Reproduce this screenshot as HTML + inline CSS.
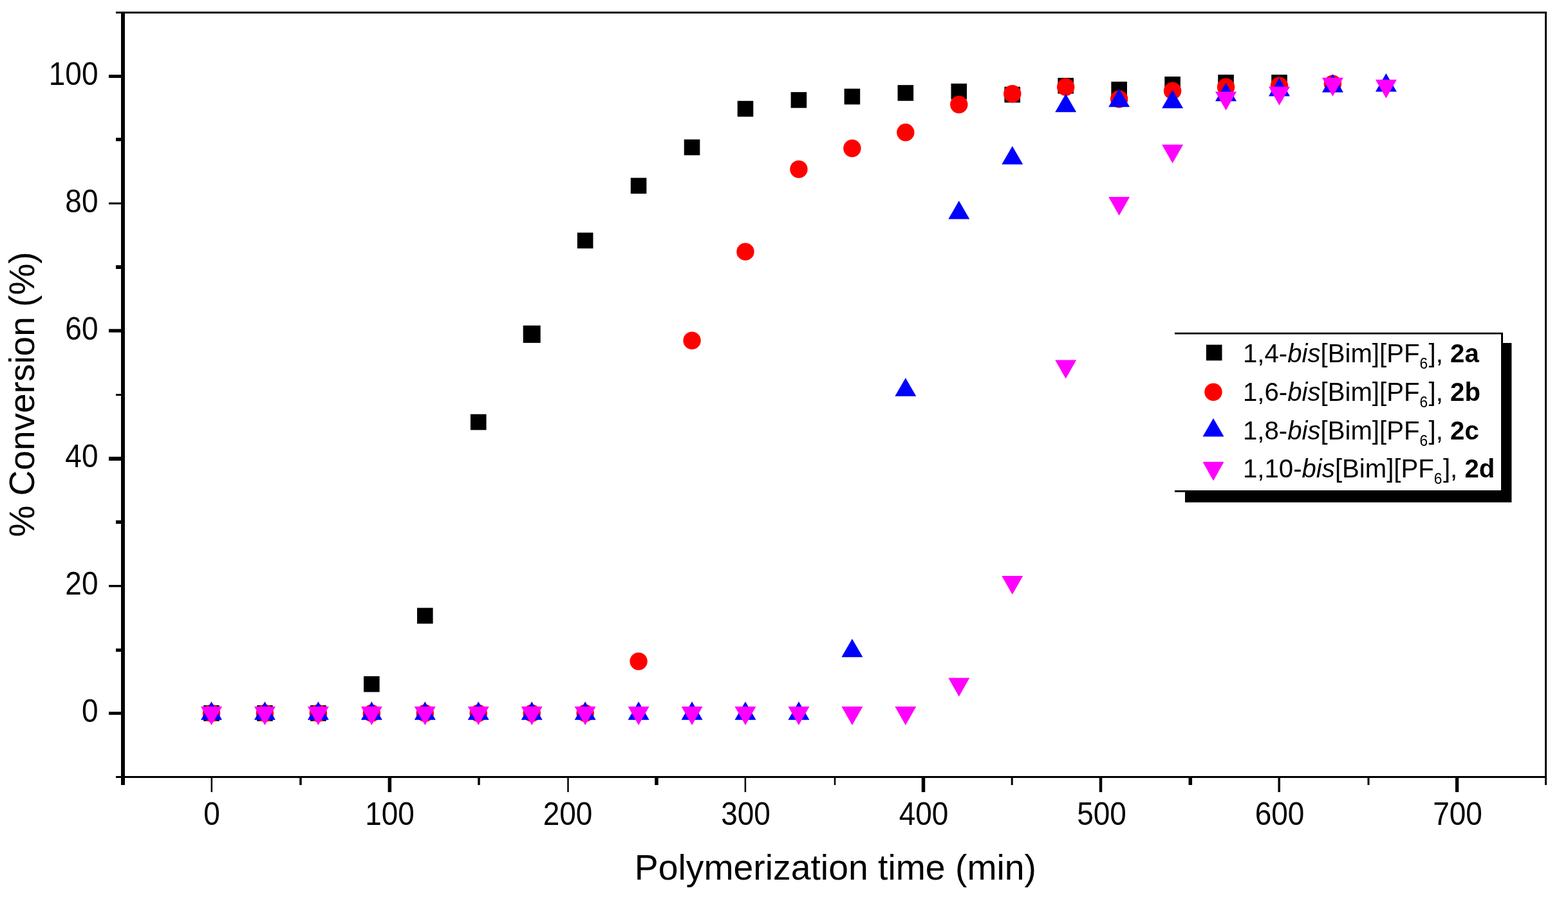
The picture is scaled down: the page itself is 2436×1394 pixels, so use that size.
<!DOCTYPE html>
<html><head><meta charset="utf-8"><title>Polymerization conversion</title>
<style>
html,body{margin:0;padding:0;background:#fff;}
body{width:2436px;height:1394px;overflow:hidden;}
svg{display:block;}
</style></head>
<body>
<svg width="2436" height="1394" viewBox="0 0 2436 1394">
<rect width="2436" height="1394" fill="#fff"/>
<g fill="#000">
<rect x="188" y="18" width="6" height="1202"/>
<rect x="180" y="18" width="2223" height="3"/>
<rect x="2400" y="18" width="3" height="1202"/>
<rect x="180" y="1206" width="2223" height="3"/>
<rect x="169" y="116.1" width="20" height="5"/>
<rect x="180" y="214.1" width="9" height="5.3"/>
<rect x="169" y="314.6" width="20" height="3"/>
<rect x="180" y="412.2" width="9" height="5.8"/>
<rect x="169" y="511.3" width="20" height="5.3"/>
<rect x="180" y="612.1" width="9" height="3"/>
<rect x="169" y="709.8" width="20" height="6.1"/>
<rect x="180" y="808.6" width="9" height="5.5"/>
<rect x="169" y="909" width="20" height="3.4"/>
<rect x="180" y="1007.8" width="9" height="5.1"/>
<rect x="169" y="1106.1" width="20" height="4.8"/>
<rect x="327.55" y="1208" width="2.5" height="23"/>
<rect x="465.25" y="1208" width="3.5" height="12"/>
<rect x="602.65" y="1208" width="5.5" height="23"/>
<rect x="742.25" y="1208" width="3.5" height="12"/>
<rect x="881.25" y="1208" width="2.5" height="23"/>
<rect x="1017.25" y="1208" width="5.5" height="12"/>
<rect x="1156.65" y="1208" width="2.5" height="23"/>
<rect x="1295.75" y="1208" width="2.5" height="12"/>
<rect x="1431.75" y="1208" width="5.5" height="23"/>
<rect x="1570.7" y="1208" width="3" height="12"/>
<rect x="1707.75" y="1208" width="4.5" height="23"/>
<rect x="1846.55" y="1208" width="5.5" height="12"/>
<rect x="1985.45" y="1208" width="3.5" height="23"/>
<rect x="2124.5" y="1208" width="3" height="12"/>
<rect x="2260.95" y="1208" width="5.3" height="23"/>
</g>
<g font-family="Liberation Sans, Arial, sans-serif" font-size="46" fill="#000">
<text transform="translate(152.5 1122.2) scale(1 1.07)" text-anchor="end">0</text>
<text transform="translate(152.5 924.2) scale(1 1.07)" text-anchor="end">20</text>
<text transform="translate(152.5 726.2) scale(1 1.07)" text-anchor="end">40</text>
<text transform="translate(152.5 528.2) scale(1 1.07)" text-anchor="end">60</text>
<text transform="translate(152.5 330.2) scale(1 1.07)" text-anchor="end">80</text>
<text transform="translate(152.5 132.2) scale(1 1.07)" text-anchor="end">100</text>
<text transform="translate(329 1282.4) scale(1 1.08)" text-anchor="middle">0</text>
<text transform="translate(605.5 1282.4) scale(1 1.08)" text-anchor="middle">100</text>
<text transform="translate(882 1282.4) scale(1 1.08)" text-anchor="middle">200</text>
<text transform="translate(1158.5 1282.4) scale(1 1.08)" text-anchor="middle">300</text>
<text transform="translate(1435 1282.4) scale(1 1.08)" text-anchor="middle">400</text>
<text transform="translate(1711.5 1282.4) scale(1 1.08)" text-anchor="middle">500</text>
<text transform="translate(1988 1282.4) scale(1 1.08)" text-anchor="middle">600</text>
<text transform="translate(2264.5 1282.4) scale(1 1.08)" text-anchor="middle">700</text>
</g>
<text x="1297.9" y="1366.5" font-family="Liberation Sans, Arial, sans-serif" font-size="55.35" text-anchor="middle">Polymerization time (min)</text>
<text transform="translate(52.5 613) rotate(-90)" font-family="Liberation Sans, Arial, sans-serif" font-size="55" text-anchor="middle">% Conversion (%)</text>
<g fill="#000">
<rect x="316.2" y="1096.1" width="24.6" height="24.6"/>
<rect x="399.15" y="1096.1" width="24.6" height="24.6"/>
<rect x="482.1" y="1096.1" width="24.6" height="24.6"/>
<rect x="565.05" y="1050.86" width="24.6" height="24.6"/>
<rect x="648" y="944.63" width="24.6" height="24.6"/>
<rect x="730.95" y="643.67" width="24.6" height="24.6"/>
<rect x="812.7" y="505.85" width="27" height="27"/>
<rect x="896.85" y="361.52" width="24.6" height="24.6"/>
<rect x="979.8" y="276.38" width="24.6" height="24.6"/>
<rect x="1062.75" y="216.68" width="24.6" height="24.6"/>
<rect x="1145.7" y="156.79" width="24.6" height="24.6"/>
<rect x="1228.65" y="143.13" width="24.6" height="24.6"/>
<rect x="1311.6" y="137.78" width="24.6" height="24.6"/>
<rect x="1394.55" y="132.14" width="24.6" height="24.6"/>
<rect x="1477.5" y="129.86" width="24.6" height="24.6"/>
<rect x="1560.45" y="134.81" width="24.6" height="24.6"/>
<rect x="1643.4" y="120.95" width="24.6" height="24.6"/>
<rect x="1726.35" y="126.89" width="24.6" height="24.6"/>
<rect x="1809.3" y="118.97" width="24.6" height="24.6"/>
<rect x="1892.25" y="116" width="24.6" height="24.6"/>
<rect x="1975.2" y="116" width="24.6" height="24.6"/>
</g>
<g fill="#f00">
<circle cx="328.5" cy="1108.4" r="13.7"/>
<circle cx="411.45" cy="1108.4" r="13.7"/>
<circle cx="494.4" cy="1108.4" r="13.7"/>
<circle cx="577.35" cy="1108.4" r="13.7"/>
<circle cx="660.3" cy="1108.4" r="13.7"/>
<circle cx="743.25" cy="1108.4" r="13.7"/>
<circle cx="826.2" cy="1108.4" r="13.7"/>
<circle cx="909.15" cy="1108.4" r="13.7"/>
<circle cx="992.1" cy="1027.81" r="13.7"/>
<circle cx="1075.05" cy="529.25" r="13.7"/>
<circle cx="1158" cy="391.14" r="13.7"/>
<circle cx="1240.95" cy="262.94" r="13.7"/>
<circle cx="1323.9" cy="230.47" r="13.7"/>
<circle cx="1406.85" cy="205.82" r="13.7"/>
<circle cx="1489.8" cy="162.46" r="13.7"/>
<circle cx="1572.75" cy="145.72" r="13.7"/>
<circle cx="1655.7" cy="135.23" r="13.7"/>
<circle cx="1738.65" cy="154.04" r="13.7"/>
<circle cx="1821.6" cy="141.17" r="13.7"/>
<circle cx="1904.55" cy="135.23" r="13.7"/>
<circle cx="1987.5" cy="133.25" r="13.7"/>
<circle cx="2070.45" cy="130.28" r="13.7"/>
</g>
<g fill="#00f">
<path d="M328.5 1090.16L345 1118.66H312Z"/>
<path d="M411.45 1090.16L427.95 1118.66H394.95Z"/>
<path d="M494.4 1090.16L510.9 1118.66H477.9Z"/>
<path d="M577.35 1090.16L593.85 1118.66H560.85Z"/>
<path d="M660.3 1090.16L676.8 1118.66H643.8Z"/>
<path d="M743.25 1090.16L759.75 1118.66H726.75Z"/>
<path d="M826.2 1090.16L842.7 1118.66H809.7Z"/>
<path d="M909.15 1090.16L925.65 1118.66H892.65Z"/>
<path d="M992.1 1090.16L1008.6 1118.66H975.6Z"/>
<path d="M1075.05 1090.16L1091.55 1118.66H1058.55Z"/>
<path d="M1158 1090.16L1174.5 1118.66H1141.5Z"/>
<path d="M1240.95 1090.16L1257.45 1118.66H1224.45Z"/>
<path d="M1323.9 992.65L1340.4 1021.15H1307.4Z"/>
<path d="M1406.85 587.24L1423.35 615.74H1390.35Z"/>
<path d="M1489.8 312.02L1506.3 340.52H1473.3Z"/>
<path d="M1572.75 226.88L1589.25 255.38H1556.25Z"/>
<path d="M1655.7 145.7L1672.2 174.2H1639.2Z"/>
<path d="M1738.65 137.78L1755.15 166.28H1722.15Z"/>
<path d="M1821.6 139.76L1838.1 168.26H1805.1Z"/>
<path d="M1904.55 128.87L1921.05 157.37H1888.05Z"/>
<path d="M1987.5 120.95L2004 149.45H1971Z"/>
<path d="M2070.45 115.01L2086.95 143.51H2053.95Z"/>
<path d="M2153.4 114.02L2169.9 142.52H2136.9Z"/>
</g>
<g fill="#f0f">
<path d="M312 1097.96H345L328.5 1126.96Z"/>
<path d="M394.95 1097.96H427.95L411.45 1126.96Z"/>
<path d="M477.9 1097.96H510.9L494.4 1126.96Z"/>
<path d="M560.85 1097.96H593.85L577.35 1126.96Z"/>
<path d="M643.8 1097.96H676.8L660.3 1126.96Z"/>
<path d="M726.75 1097.96H759.75L743.25 1126.96Z"/>
<path d="M809.7 1097.96H842.7L826.2 1126.96Z"/>
<path d="M892.65 1097.96H925.65L909.15 1126.96Z"/>
<path d="M975.6 1097.96H1008.6L992.1 1126.96Z"/>
<path d="M1058.55 1097.96H1091.55L1075.05 1126.96Z"/>
<path d="M1141.5 1097.96H1174.5L1158 1126.96Z"/>
<path d="M1224.45 1097.96H1257.45L1240.95 1126.96Z"/>
<path d="M1307.4 1097.96H1340.4L1323.9 1126.96Z"/>
<path d="M1390.35 1097.96H1423.35L1406.85 1126.96Z"/>
<path d="M1473.3 1053.41H1506.3L1489.8 1082.41Z"/>
<path d="M1556.25 895.01H1589.25L1572.75 924.01Z"/>
<path d="M1639.2 559.4H1672.2L1655.7 588.4Z"/>
<path d="M1722.15 305.96H1755.15L1738.65 334.96Z"/>
<path d="M1805.1 224.78H1838.1L1821.6 253.78Z"/>
<path d="M1888.05 142.61H1921.05L1904.55 171.61Z"/>
<path d="M1971 134.69H2004L1987.5 163.69Z"/>
<path d="M2053.95 120.83H2086.95L2070.45 149.83Z"/>
<path d="M2136.9 123.8H2169.9L2153.4 152.8Z"/>
</g>
<rect x="1841" y="533" width="507.4" height="247.7" fill="#000"/>
<rect x="1825" y="516.8" width="510" height="248" fill="#000"/>
<rect x="1825" y="519.5" width="507" height="242.5" fill="#fff"/>
<rect x="1873.9" y="535.7" width="24.6" height="24.6"/>
<g fill="#f00"><circle cx="1885" cy="609.2" r="13.7"/></g>
<g fill="#00f"><path d="M1885 650.06L1901.5 678.56H1868.5Z"/></g>
<g fill="#f0f"><path d="M1868.5 717.78H1901.5L1885 747.28Z"/></g>
<g font-family="Liberation Sans, Arial, sans-serif" font-size="41.5" fill="#000">
<text transform="translate(1931 562.9) scale(0.968 1)">1,4-<tspan font-style="italic">bis</tspan>[Bim][PF<tspan font-size="23.5" dy="10">6</tspan><tspan dy="-10" dx="1.5">], </tspan><tspan font-weight="bold">2a</tspan></text>
<text transform="translate(1931 622.7) scale(0.968 1)">1,6-<tspan font-style="italic">bis</tspan>[Bim][PF<tspan font-size="23.5" dy="10">6</tspan><tspan dy="-10" dx="1.5">], </tspan><tspan font-weight="bold">2b</tspan></text>
<text transform="translate(1931 682.7) scale(0.968 1)">1,8-<tspan font-style="italic">bis</tspan>[Bim][PF<tspan font-size="23.5" dy="10">6</tspan><tspan dy="-10" dx="1.5">], </tspan><tspan font-weight="bold">2c</tspan></text>
<text transform="translate(1931 742.4) scale(0.968 1)">1,10-<tspan font-style="italic">bis</tspan>[Bim][PF<tspan font-size="23.5" dy="10">6</tspan><tspan dy="-10" dx="1.5">], </tspan><tspan font-weight="bold">2d</tspan></text>
</g>
</svg>
</body></html>
